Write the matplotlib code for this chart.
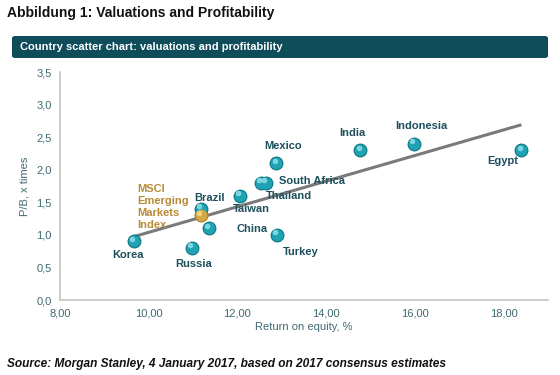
import matplotlib
matplotlib.use("Agg")
import matplotlib.pyplot as plt
from matplotlib.patches import FancyBboxPatch
from matplotlib.transforms import offset_copy

plt.rcParams['font.family'] = ['Liberation Sans', 'DejaVu Sans']

# ---- data ----
countries = ["Korea", "Russia", "Brazil", "China", "Taiwan", "Thailand",
             "South Africa", "Mexico", "Turkey", "India", "Indonesia", "Egypt"]
roe = [9.67, 10.97, 11.18, 11.36, 12.06, 12.53, 12.64, 12.88, 12.89, 14.77, 15.98, 18.40]
pb = [0.90, 0.80, 1.40, 1.10, 1.60, 1.80, 1.80, 2.10, 1.00, 2.30, 2.40, 2.30]
msci_label = "MSCI\nEmerging\nMarkets\nIndex"
msci_roe = [11.18]
msci_pb = [1.30]
trend_x = [9.65, 18.40]
trend_y = [0.97, 2.69]
x_ticks = [8, 10, 12, 14, 16, 18]
y_ticks = [0.0, 0.5, 1.0, 1.5, 2.0, 2.5, 3.0, 3.5]

# label offsets in pixels (dx, dy up-positive)
label_offsets = {
    "Korea": (-6, -14), "Russia": (2, -16), "Brazil": (8, 11),
    "China": (43, -1), "Taiwan": (11, -13), "Thailand": (28, -13),
    "South Africa": (46, 2), "Mexico": (7, 17), "Turkey": (24, -17),
    "India": (-8, 17), "Indonesia": (7, 18), "Egypt": (-19, -11),
}

TEAL_TXT = "#1D4F5C"
AXIS_TXT = "#3F6A72"

fig = plt.figure(figsize=(5.6, 3.75), dpi=100)
fig.patch.set_facecolor("white")
ax = fig.add_axes([60/560, 1-300/375, (548-60)/560, (300-72)/375])

ax.plot(trend_x, trend_y, color="#7A7A7A", lw=2.2, zorder=2, solid_capstyle="butt")

def sphere(xs, ys, base, dark, light):
    ax.scatter(xs, ys, s=100, color=dark, zorder=3, linewidths=0)
    ax.scatter(xs, ys, s=72, color=base, zorder=4, linewidths=0)
    hl = offset_copy(ax.transData, fig=fig, x=-1.3, y=1.8, units='points')
    ax.scatter(xs, ys, s=16, color=light, zorder=5, linewidths=0, transform=hl, alpha=0.85)

sphere(roe, pb, "#1FA3B3", "#0D7482", "#8CE0E8")
sphere(msci_roe, msci_pb, "#D4A744", "#A77A22", "#F3D98F")

for name, x, y in zip(countries, roe, pb):
    dx, dy = label_offsets[name]
    ax.annotate(name, (x, y), xytext=(dx*0.72, dy*0.72), textcoords="offset points",
                ha="center", va="center", fontsize=8, fontweight="bold",
                color=TEAL_TXT, zorder=6)

ax.annotate(msci_label, (msci_roe[0], msci_pb[0]), xytext=(-64*0.72, 8*0.72),
            textcoords="offset points", ha="left", va="center", fontsize=8,
            fontweight="bold", color="#B98A36", linespacing=1.25, zorder=6)

ax.set_xlim(8, 19)
ax.set_ylim(0, 3.5)
ax.set_xticks(x_ticks)
ax.set_yticks(y_ticks)
ax.set_xticklabels([f"{v:.2f}".replace(".", ",") for v in x_ticks])
ax.set_yticklabels([f"{v:.1f}".replace(".", ",") for v in y_ticks])
ax.tick_params(length=0, labelsize=8, colors=AXIS_TXT, pad=6)
for s in ["top", "right"]:
    ax.spines[s].set_visible(False)
for s in ["left", "bottom"]:
    ax.spines[s].set_color("#C4C4C4")
    ax.spines[s].set_linewidth(1.2)
ax.set_xlabel("Return on equity, %", fontsize=8, color=AXIS_TXT, labelpad=3)
ax.set_ylabel("P/B, x times", fontsize=8, color=AXIS_TXT, labelpad=5)

# titles
fig.text(7/560, 1-13/375, "Abbildung 1: Valuations and Profitability", fontsize=10,
         fontweight="bold", color="#111111", ha="left", va="center")
banner = FancyBboxPatch((12/560, 1-58/375), (548-12)/560, 22/375,
                        boxstyle="round,pad=0,rounding_size=0.006",
                        transform=fig.transFigure, facecolor="#0F4D5B",
                        edgecolor="none")
fig.patches.append(banner)
fig.text(20/560, 1-46.5/375, "Country scatter chart: valuations and profitability",
         fontsize=8, fontweight="bold", color="white", ha="left", va="center")
fig.text(7/560, 1-364/375,
         "Source: Morgan Stanley, 4 January 2017, based on 2017 consensus estimates",
         fontsize=8.6, fontweight="bold", fontstyle="italic", color="#111111",
         ha="left", va="center")

fig.savefig("out.png", dpi=100)
